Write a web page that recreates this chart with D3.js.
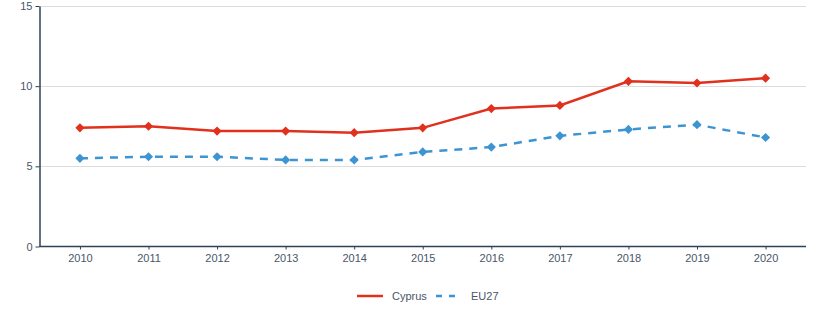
<!DOCTYPE html>
<html><head><meta charset="utf-8">
<script src="https://cdn.jsdelivr.net/npm/d3@7"></script>
<style>body{margin:0;background:#fff;font-family:"Liberation Sans",Arial,sans-serif;}</style>
</head><body><svg id="c" width="813" height="325"></svg>
<script>
const years = ["2010","2011","2012","2013","2014","2015","2016","2017","2018","2019","2020"];
const cyprus = [7.4,7.5,7.2,7.2,7.1,7.4,8.6,8.8,10.3,10.2,10.5];
const eu27 = [5.5,5.6,5.6,5.4,5.4,5.9,6.2,6.9,7.3,7.6,6.8];
const yTicks = [0,5,10,15];
const seriesNames = ["Cyprus","EU27"];

const svg = d3.select("#c");
const L=39.5, R=806, T=6, B=246.5;
const x = d3.scalePoint().domain(years).range([L,R]).padding(0.59);
const y = d3.scaleLinear().domain([0,15]).range([B,T]);
const axisCol="#2e4257", textCol="#4a5668";

// grid
svg.append("g").selectAll("line").data(yTicks.filter(d=>d>0)).join("line")
  .attr("x1",L).attr("x2",R).attr("y1",d=>Math.round(y(d))+0.5).attr("y2",d=>Math.round(y(d))+0.5)
  .attr("stroke","#dcdcdc").attr("stroke-width",1);

const ya = svg.append("g").attr("transform",`translate(${L},0)`)
  .call(d3.axisLeft(y).tickValues(yTicks).tickSize(4).tickPadding(3).tickSizeOuter(0));
const xa = svg.append("g").attr("transform",`translate(0,${B})`)
  .call(d3.axisBottom(x).tickSize(3).tickPadding(5).tickSizeOuter(0));
[ya,xa].forEach(a=>{
  a.select(".domain").attr("stroke",axisCol).attr("stroke-width",1.5);
  a.selectAll(".tick line").attr("stroke",axisCol);
  a.selectAll("text").attr("fill",textCol).style("font-size","11px").style("font-family","'Liberation Sans',Arial,sans-serif");
});
xa.select(".domain").attr("d",`M${L},0H${R}`);

const series = [
  {name:seriesNames[0], vals:cyprus, color:"#e1301c", dash:null},
  {name:seriesNames[1], vals:eu27, color:"#3d94d3", dash:"8,7"}
];
const line = d3.line().x((d,i)=>x(years[i])).y(d=>y(d));
const diamond = d3.symbol().type(d3.symbolSquare).size(42);
series.forEach(s=>{
  svg.append("path").datum(s.vals).attr("d",line).attr("fill","none")
    .attr("stroke",s.color).attr("stroke-width",2.5).attr("stroke-dasharray",s.dash);
  svg.append("g").selectAll("path").data(s.vals).join("path")
    .attr("d",diamond).attr("transform",(d,i)=>`translate(${x(years[i])},${y(d)}) rotate(45)`)
    .attr("fill",s.color);
});

// legend
const lg = svg.append("g");
const lx=[357,436];
series.forEach((s,i)=>{
  lg.append("line").attr("x1",lx[i]).attr("x2",lx[i]+26).attr("y1",296).attr("y2",296)
    .attr("stroke",s.color).attr("stroke-width",2.5).attr("stroke-dasharray",s.dash?"6,7":null);
  lg.append("text").attr("x",lx[i]+35).attr("y",300).text(s.name)
    .attr("fill",textCol).style("font-size","11px");
});
</script></body></html>
